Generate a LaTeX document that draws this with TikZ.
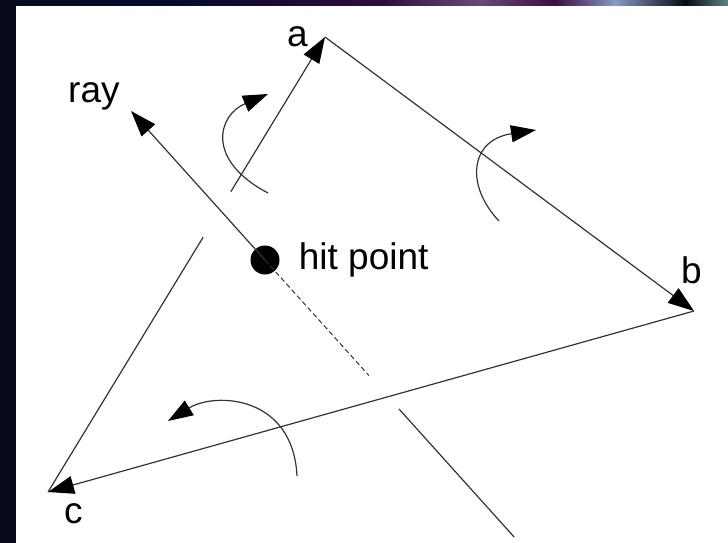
\documentclass[tikz,border=0pt]{standalone}
\usepackage{fontspec}
\setmainfont{Liberation Sans}
\usetikzlibrary{arrows.meta, positioning, calc}

\definecolor{frame}{HTML}{070B1A}
\definecolor{navy}{HTML}{000A2C}
\definecolor{plum}{HTML}{2E0C3A}
\definecolor{mauve}{HTML}{6A4A74}
\definecolor{wine}{HTML}{3A0E40}
\definecolor{haze}{HTML}{8898C8}
\definecolor{night}{HTML}{060A10}
\definecolor{sea}{HTML}{5E8486}

\begin{document}
\begin{tikzpicture}[x=1pt, y=-1pt,
    edge/.style={draw=black!80, line width=1.2pt},
    headed/.style={-{Triangle[length=26pt, width=18pt, color=black]}},
    turn/.style={draw=black!80, line width=1.2pt, -{Triangle[length=25pt, width=17pt, color=black]}},
    lbl/.style={font=\fontsize{37}{44}\selectfont, inner sep=0pt}]
  % page, frame and the coloured band on top
  \useasboundingbox (0,0) rectangle (728,543);
  \fill[white] (0,0) rectangle (728,543);
  \fill[frame] (0,0) rectangle (16,543);
  \shade[left color=frame, right color=navy]  (0,0)   rectangle (150.5,6);
  \shade[left color=navy, right color=plum]   (150,0) rectangle (380.5,6);
  \shade[left color=plum, right color=mauve]  (380,0) rectangle (480.5,6);
  \shade[left color=mauve, right color=wine]  (480,0) rectangle (555.5,6);
  \shade[left color=wine, right color=haze]   (555,0) rectangle (615.5,6);
  \shade[left color=haze, right color=night]  (615,0) rectangle (685.5,6);
  \shade[left color=night, right color=sea]   (685,0) rectangle (728,6);

  % triangle corners and the ray
  \coordinate (a) at (325,37);
  \coordinate (b) at (694,311);
  \coordinate (c) at (48,492);
  \coordinate (raytip) at (131,111);
  \node[circle, fill, inner sep=0pt, minimum size=29pt] (hit) at (265,260) {};

  % edges a -> b -> c -> a
  \draw[edge, headed] (a) -- (b);
  \draw[edge, headed] (b) -- (c);
  \draw[edge] (c) -- ($(c)!0.56!(a)$);
  \draw[edge, headed] ($(c)!0.66!(a)$) -- (a);

  % ray through the hit point
  \draw[edge, headed] (hit.center) -- (raytip);
  \draw[edge, line width=1pt, dash pattern=on 5pt off 3pt]
    (hit.center) -- ($(hit.center)!-0.775!(raytip)$);
  \draw[edge] ($(hit.center)!-1!(raytip)$) -- ($(hit.center)!-1.86!(raytip)$);

  % turning arrows
  \draw[turn] (268,193) .. controls (205,160) and (218,115) .. (268,94);
  \draw[turn] (499,221) .. controls (465,185) and (470,140) .. (536,130);
  \draw[turn] (297,476) .. controls (293,395) and (215,392) .. (168,421);

  % labels
  \node[lbl, anchor=base west] (la) at (287,47) {a};
  \node[lbl, anchor=base west] (lb) at (681,283) {b};
  \node[lbl, anchor=base west] (lc) at (64,523) {c};
  \node[lbl, anchor=base west] (lray) at (68,102) {ray};
  \node[lbl, right=19pt of hit] (lhit) {hit point};
\end{tikzpicture}
\end{document}
